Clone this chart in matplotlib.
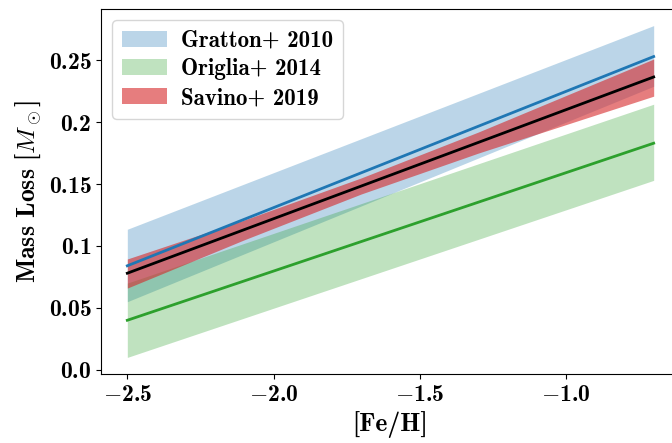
import numpy as np
import matplotlib
matplotlib.use("Agg")
import matplotlib.pyplot as plt

plt.rcParams["font.family"] = "serif"
plt.rcParams["font.serif"] = ["cmb10"]
plt.rcParams["mathtext.fontset"] = "custom"
plt.rcParams["mathtext.rm"] = "cmb10"
plt.rcParams["mathtext.bf"] = "cmb10"
plt.rcParams["mathtext.it"] = "cmmi10"
plt.rcParams["axes.unicode_minus"] = True

# [Fe/H] grid
feh = [-2.5, -0.7]

# Gratton+ 2010
gratton_mid = [0.084, 0.253]
gratton_hi = [0.1135, 0.278]
gratton_lo = [0.055, 0.229]

# Origlia+ 2014
origlia_mid = [0.040, 0.183]
origlia_hi = [0.070, 0.2145]
origlia_lo = [0.010, 0.153]

# Savino+ 2019
feh_sav = [-2.5, -2.1, -1.7, -1.3, -0.7]
savino_mid = [0.078, 0.1132, 0.1484, 0.1836, 0.2365]
savino_hi = [0.0895, 0.121, 0.155, 0.192, 0.251]
savino_lo = [0.066, 0.105, 0.142, 0.175, 0.221]

xticks = [-2.5, -2.0, -1.5, -1.0]
yticks = [0.0, 0.05, 0.1, 0.15, 0.2, 0.25]
ytick_labels = ["0.0", "0.05", "0.1", "0.15", "0.2", "0.25"]

fig = plt.figure(figsize=(6.72, 4.43), dpi=100)
ax = fig.add_axes([101/672, 69/443, 579/672, 365/443])

ax.fill_between(feh, gratton_lo, gratton_hi, color="C0", alpha=0.3, lw=0, label="Gratton+ 2010")
ax.plot(feh, gratton_mid, color="C0", lw=2)
ax.fill_between(feh, origlia_lo, origlia_hi, color="C2", alpha=0.3, lw=0, label="Origlia+ 2014")
ax.plot(feh, origlia_mid, color="C2", lw=2)
ax.fill_between(feh_sav, savino_lo, savino_hi, color="C3", alpha=0.6, lw=0, label="Savino+ 2019")
ax.plot(feh_sav, savino_mid, color="k", lw=2)

ax.set_xticks(xticks)
ax.set_xticklabels([r"$-%.1f$" % abs(t) for t in xticks], fontsize=17)
ax.set_yticks(yticks)
ax.set_yticklabels([r"$%s$" % s for s in ytick_labels], fontsize=17)
ax.set_xlabel(r"[Fe/H]", fontsize=18.5)
ax.set_ylabel(r"Mass Loss [$M_\odot$]", fontsize=18.5)
ax.legend(loc="upper left", fontsize=16.5, labelspacing=0.3, handletextpad=0.6)

fig.savefig("out.png", dpi=100)
